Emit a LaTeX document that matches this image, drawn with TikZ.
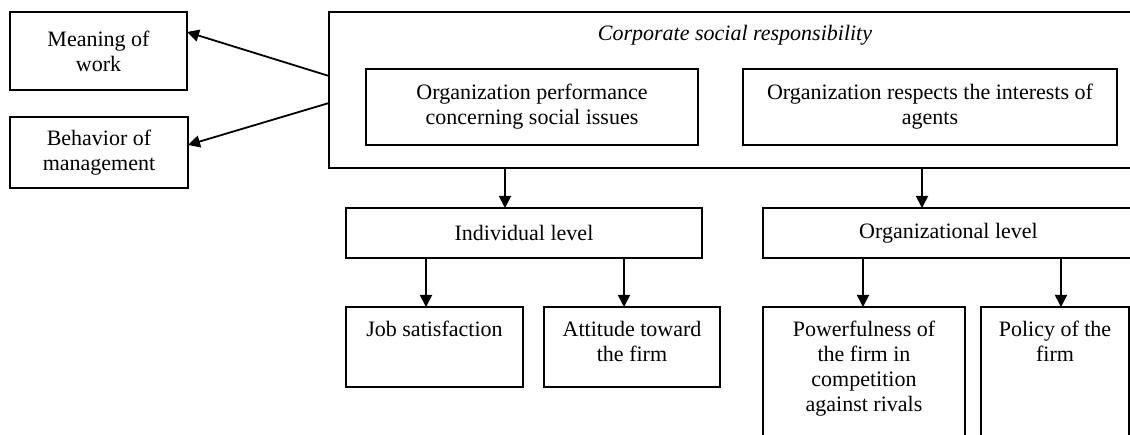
\documentclass[tikz,border=0pt]{standalone}
\usepackage{fontspec}
\setmainfont{Liberation Serif}
\usetikzlibrary{positioning,arrows.meta}

\begin{document}
\begin{tikzpicture}[x=1pt,y=-1pt,
          box/.style = {draw, rectangle, line width=1.4pt, inner sep=0pt, outer sep=0pt, align=center, font=\fontsize{22}{25}\selectfont},
          txt/.style = {inner sep=0pt, outer sep=0pt, align=center, font=\fontsize{22}{25}\selectfont},
          arr/.style = {line width=1.8pt, -{Triangle[width=12pt,length=12pt]}}
          ]
          \useasboundingbox (0,0) rectangle (1130,435);
          \fill[white] (0,0) rectangle (1130,435);
          \clip (0,0) rectangle (1130,435);
          \node[box, minimum width=177pt, minimum height=78pt] (meaning) at (98.5,51) {Meaning of\\work};
          \node[box, minimum width=178pt, minimum height=71pt] (behav) at (99,152.5) {Behavior of\\management};
          \node[box, minimum width=811pt, minimum height=156pt] (csr) at (734.5,90) {};
          \node[txt, font=\fontsize{22}{25}\selectfont\itshape, anchor=base] (title) at (735,41) {Corporate social responsibility};
          \node[box, minimum width=332pt, minimum height=76pt] (perf) at (532,107) {Organization performance\\concerning social issues};
          \node[box, minimum width=374pt, minimum height=76pt] (resp) at (930,107) {Organization respects the interests of\\agents};
          \node[box, minimum width=356pt, minimum height=50pt] (ind) at (524,233) {Individual level};
          \node[box, minimum width=371pt, minimum height=50pt] (org) at (948.5,233) {Organizational level};
          \node[box, minimum width=177pt, minimum height=80pt] (job) at (434.5,347) {};
          \node[box, minimum width=176pt, minimum height=80pt, right=21pt of job] (att) {};
          \node[box, minimum width=202pt, minimum height=148pt] (pow) at (864,381) {};
          \node[box, minimum width=148pt, minimum height=148pt, right=16pt of pow] (pol) {};
          \node[txt, below=14pt of job.north] (jobtxt) {Job satisfaction};
          \node[txt, below=14pt of att.north] (atttxt) {Attitude toward\\the firm};
          \node[txt, below=14pt of pow.north] (powtxt) {Powerfulness of\\the firm in\\competition\\against rivals};
          \node[txt, below=14pt of pol.north] (poltxt) {Policy of the\\firm};
          \draw[arr] ([yshift=14pt]csr.west) -- ([yshift=19pt]meaning.east);
          \draw[arr] ([yshift=-13pt]csr.west) -- ([yshift=7.5pt]behav.east);
          \draw[arr] ([xshift=-229.5pt]csr.south) -- ([xshift=-19pt]ind.north);
          \draw[arr] ([xshift=187.5pt]csr.south) -- ([xshift=-26.5pt]org.north);
          \draw[arr] ([xshift=-98pt]ind.south) -- ([xshift=-8.5pt]job.north);
          \draw[arr] ([xshift=100pt]ind.south) -- ([xshift=-8pt]att.north);
          \draw[arr] ([xshift=-85.5pt]org.south) -- ([xshift=-1pt]pow.north);
          \draw[arr] ([xshift=112.5pt]org.south) -- ([xshift=6pt]pol.north);
        \end{tikzpicture}
\end{document}
